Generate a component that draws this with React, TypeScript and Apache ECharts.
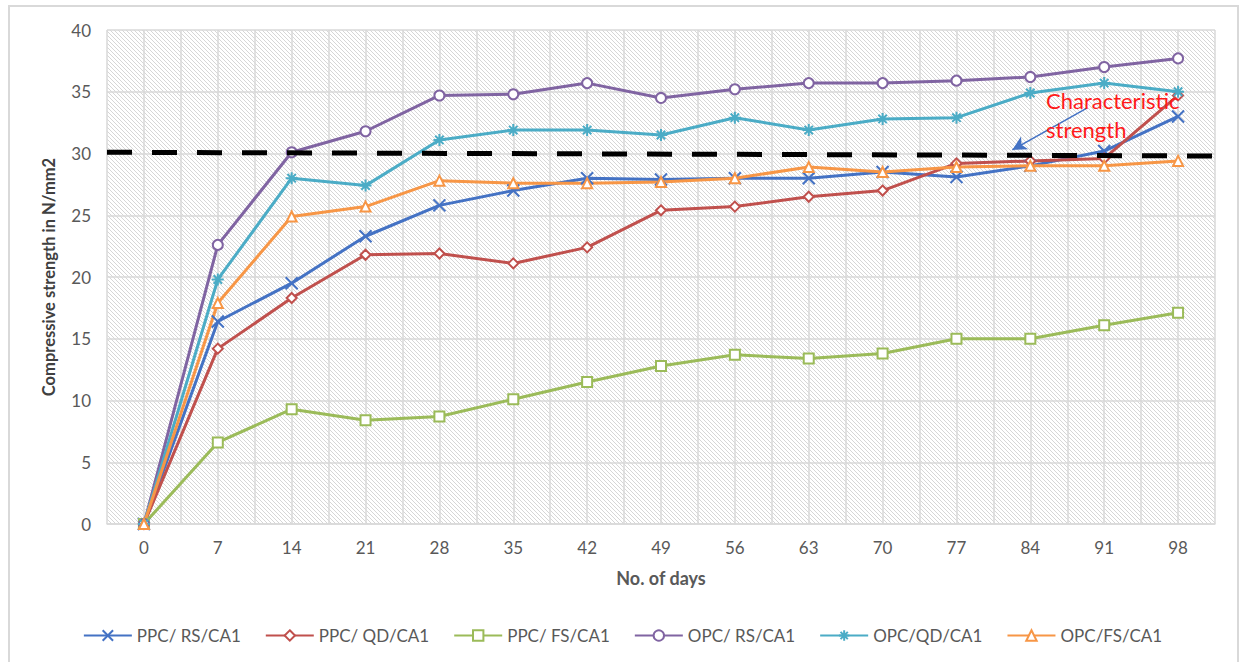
import React, { useEffect, useRef } from "react";
import * as echarts from "echarts";

const days = [0, 7, 14, 21, 28, 35, 42, 49, 56, 63, 70, 77, 84, 91, 98];
const seriesNames = ["PPC/ RS/CA1", "PPC/ QD/CA1", "PPC/ FS/CA1", "OPC/ RS/CA1", "OPC/QD/CA1", "OPC/FS/CA1"];
const ppcRs = [0, 16.4, 19.5, 23.3, 25.8, 27.0, 28.0, 27.9, 28.0, 28.0, 28.5, 28.1, 29.0, 30.2, 33.0];
const ppcQd = [0, 14.2, 18.3, 21.8, 21.9, 21.1, 22.4, 25.4, 25.7, 26.5, 27.0, 29.2, 29.4, 29.6, 34.7];
const ppcFs = [0, 6.6, 9.3, 8.4, 8.7, 10.1, 11.5, 12.8, 13.7, 13.4, 13.8, 15.0, 15.0, 16.1, 17.1];
const opcRs = [0, 22.6, 30.1, 31.8, 34.7, 34.8, 35.7, 34.5, 35.2, 35.7, 35.7, 35.9, 36.2, 37.0, 37.7];
const opcQd = [0, 19.8, 28.0, 27.4, 31.1, 31.9, 31.9, 31.5, 32.9, 31.9, 32.8, 32.9, 34.9, 35.7, 35.0];
const opcFs = [0, 17.9, 24.9, 25.7, 27.8, 27.6, 27.6, 27.7, 28.0, 28.9, 28.5, 28.9, 29.0, 29.0, 29.4];
const characteristicStrength = [30.1, 29.8];
const arrowFrom = [89.4, 33.7];
const arrowTo = [82.3, 30.3];

const colors = ["#4472C4", "#C0504D", "#9BBB59", "#8064A2", "#4BACC6", "#F79646"];
const symbols = [
  "path://M0,0L10,10M10,0L0,10",
  "emptyDiamond",
  "emptyRect",
  "emptyCircle",
  "path://M0,5L10,5M5,0L5,10M1.5,1.5L8.5,8.5M8.5,1.5L1.5,8.5",
  "emptyTriangle",
];
const values = [ppcRs, ppcQd, ppcFs, opcRs, opcQd, opcFs];

function makeHatch(): string {
  const c = document.createElement("canvas");
  c.width = 4;
  c.height = 4;
  const ctx = c.getContext("2d")!;
  ctx.fillStyle = "#ffffff";
  ctx.fillRect(0, 0, 4, 4);
  ctx.strokeStyle = "#d6d6d6";
  ctx.lineWidth = 1;
  for (let k = -4; k <= 4; k += 4) {
    ctx.beginPath();
    ctx.moveTo(k, 0);
    ctx.lineTo(k + 4, 4);
    ctx.stroke();
  }
  return c.toDataURL();
}

export default function App() {
  const ref = useRef<HTMLDivElement>(null);
  useEffect(() => {
    document.body.style.margin = "0";
    const chart = echarts.init(ref.current!, undefined, { renderer: "svg" });
    const font = "Lato";
    const lineSeries: any[] = seriesNames.map((name, i) => ({
      name,
      type: "line",
      data: days.map((d, j) => [d, values[i][j]]),
      symbol: symbols[i],
      symbolSize: i === 0 || i === 4 ? 12 : 10,
      lineStyle: { color: colors[i], width: 3 },
      itemStyle: { color: colors[i], borderColor: colors[i], borderWidth: 2 },
      z: 3,
    }));
    lineSeries.push({
      name: "ref",
      type: "line",
      data: [],
      silent: true,
      z: 4,
      markLine: {
        silent: true,
        animation: false,
        label: { show: false },
        data: [
          [
            { coord: [-3.5, characteristicStrength[0]], symbol: "none", lineStyle: { color: "#000", width: 5, type: [25, 20] } },
            { coord: [101.5, characteristicStrength[1]], symbol: "none" },
          ],
          [
            { coord: arrowFrom, symbol: "none", lineStyle: { color: "#4472C4", width: 1.5, type: "solid" } },
            { coord: arrowTo, symbol: "arrow", symbolSize: [11, 14] },
          ],
        ],
      },
    });
    chart.setOption({
      animation: false,
      textStyle: { fontFamily: font },
      grid: {
        left: 107,
        right: 30,
        top: 30,
        bottom: 138,
        show: true,
        borderWidth: 0,
        backgroundColor: { image: makeHatch(), repeat: "repeat", imageWidth: 4, imageHeight: 4 } as any,
      },
      xAxis: {
        type: "value",
        min: -3.5,
        max: 101.5,
        interval: 3.5,
        name: "No. of days",
        nameLocation: "middle",
        nameGap: 45,
        nameTextStyle: { fontFamily: font, fontWeight: "bold", fontSize: 18, color: "#595959" },
        axisLine: { show: true, lineStyle: { color: "#d9d9d9", width: 1.5 } },
        axisTick: { show: false },
        splitLine: { show: true, lineStyle: { color: "#d9d9d9", width: 1.5 } },
        axisLabel: {
          fontFamily: font,
          fontSize: 17,
          color: "#595959",
          margin: 15,
          formatter: (v: number) => (Math.abs(v % 7) < 1e-6 ? String(Math.round(v)) : ""),
        },
      },
      yAxis: {
        type: "value",
        min: 0,
        max: 40,
        interval: 5,
        name: "Compressive strength in N/mm2",
        nameLocation: "middle",
        nameGap: 50,
        nameTextStyle: { fontFamily: font, fontWeight: "bold", fontSize: 16.5, color: "#404040" },
        axisLine: { show: false },
        axisTick: { show: false },
        splitLine: { show: true, lineStyle: { color: "#d9d9d9", width: 1.5 } },
        axisLabel: { fontFamily: font, fontSize: 17, color: "#595959", margin: 16 },
      },
      legend: {
        data: seriesNames,
        left: "center",
        top: 622,
        itemWidth: 48,
        itemHeight: 13,
        itemGap: 24,
        textStyle: { fontFamily: font, fontSize: 17, color: "#595959" },
      },
      graphic: [
        {
          type: "rect",
          shape: { x: 9, y: 6, width: 1229, height: 680 },
          style: { fill: "none", stroke: "#d9d9d9", lineWidth: 2 },
          silent: true,
        },
        {
          type: "text",
          left: 1046,
          top: 86,
          z: 10,
          style: {
            text: "Characteristic\nstrength",
            fill: "#ff1a1a",
            font: "22px Lato",
            lineHeight: 29,
          },
        },
      ],
      series: lineSeries,
    });
    return () => chart.dispose();
  }, []);
  return <div ref={ref} style={{ width: 1245, height: 662 }} />;
}
